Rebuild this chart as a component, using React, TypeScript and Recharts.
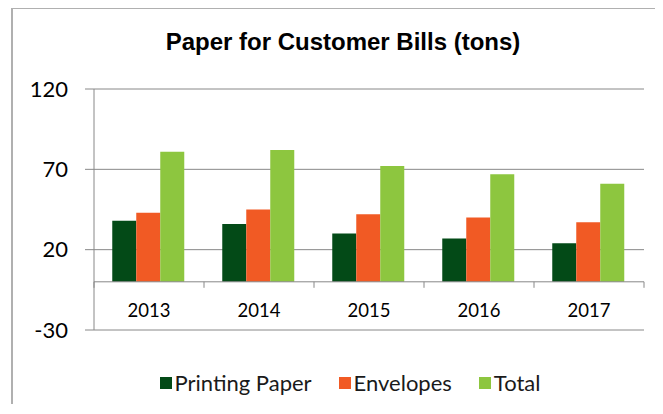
import React from 'react';
import {
  BarChart,
  Bar,
  XAxis,
  YAxis,
  CartesianGrid,
  ReferenceLine,
  Legend,
} from 'recharts';

const years = ['2013', '2014', '2015', '2016', '2017'];
const printingPaper = [38, 36, 30, 27, 24];
const envelopes = [43, 45, 42, 40, 37];
const totals = [81, 82, 72, 67, 61];
const yTicks = [-30, 20, 70, 120];

const seriesKeys = ['printing', 'envelopes', 'total'];
const seriesNames = ['Printing Paper', 'Envelopes', 'Total'];
const seriesColors = ['#034a17', '#f15a24', '#8dc63f'];

const data = years.map((year, i) => ({
  year,
  printing: printingPaper[i],
  envelopes: envelopes[i],
  total: totals[i],
}));

const Y_MIN = -30;
const Y_MAX = 120;
const PLOT_H = 241;
const GRID = '#888888';

function YearTick(props: any) {
  const { x, y, payload, index, visibleTicksCount, width } = props;
  const count = visibleTicksCount || years.length;
  const band = (width || 550) / count;
  // x axis sits on the zero line, not at the bottom of the plot
  const zeroY = y - ((0 - Y_MIN) / (Y_MAX - Y_MIN)) * PLOT_H;
  return (
    <g>
      <line x1={x - band / 2} x2={x - band / 2} y1={zeroY} y2={zeroY + 6} stroke={GRID} />
      {index === count - 1 && (
        <line x1={x + band / 2} x2={x + band / 2} y1={zeroY} y2={zeroY + 6} stroke={GRID} />
      )}
      <text x={x} y={zeroY + 35} textAnchor="middle" fontSize={18.5} fill="#000">
        {payload.value}
      </text>
    </g>
  );
}

function LegendContent() {
  return (
    <div style={{ display: 'flex', justifyContent: 'center', alignItems: 'center', height: 24 }}>
      {seriesNames.map((name, i) => (
        <div
          key={name}
          style={{ display: 'flex', alignItems: 'center', marginRight: i < seriesNames.length - 1 ? 27 : 0 }}
        >
          <span style={{ width: 12, height: 12, background: seriesColors[i], marginRight: 3 }} />
          <span style={{ fontSize: 22, lineHeight: '24px', color: '#1a1a1a' }}>{name}</span>
        </div>
      ))}
    </div>
  );
}

export default function App() {
  return (
    <div
      style={{
        position: 'relative',
        width: 644,
        height: 395,
        marginTop: -1,
        marginLeft: 3,
        borderTop: '2px solid #b0b0b0',
        borderLeft: '2px solid #b0b0b0',
        fontFamily: 'Lato, sans-serif',
        overflow: 'hidden',
        background: '#fff',
      }}
    >
      <BarChart
        width={644}
        height={395}
        data={data}
        margin={{ top: 80, right: 13, left: 0, bottom: 0 }}
        barCategoryGap="16.6%"
        barGap={0}
      >
        <CartesianGrid vertical={false} stroke={GRID} />
        <XAxis
          dataKey="year"
          height={74}
          axisLine={false}
          tickLine={false}
          tickSize={0}
          tickMargin={0}
          interval={0}
          tick={<YearTick />}
        />
        <YAxis
          type="number"
          domain={[Y_MIN, Y_MAX]}
          ticks={yTicks}
          interval={0}
          width={81}
          tickSize={9}
          tickMargin={17}
          axisLine={{ stroke: GRID }}
          tickLine={{ stroke: GRID }}
          tick={{ fill: '#000', fontSize: 22 }}
        />
        {seriesKeys.map((key, i) => (
          <Bar
            key={key}
            dataKey={key}
            name={seriesNames[i]}
            fill={seriesColors[i]}
            isAnimationActive={false}
          />
        ))}
        <ReferenceLine y={0} stroke={GRID} />
        <Legend
          layout="horizontal"
          verticalAlign="middle"
          align="center"
          content={<LegendContent />}
          wrapperStyle={{ top: 362, left: 12, width: 650, height: 24 }}
        />
      </BarChart>
      <div
        style={{
          position: 'absolute',
          top: 19,
          left: 0,
          width: 660,
          textAlign: 'center',
          fontFamily: '"Liberation Sans", Arial, sans-serif',
          fontWeight: 'bold',
          fontSize: 24,
          lineHeight: '28px',
          color: '#000',
        }}
      >
        Paper for Customer Bills (tons)
      </div>
    </div>
  );
}
